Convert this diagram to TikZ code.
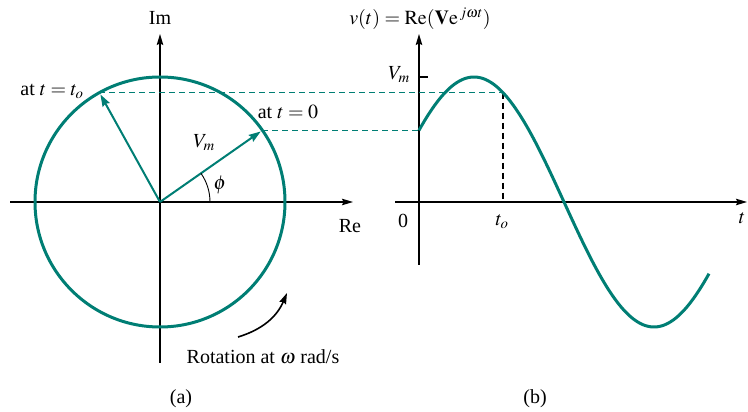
\documentclass[tikz,border=0pt]{standalone}
\usepackage{mathptmx}
\usepackage{fontspec}
\setmainfont{Liberation Serif}
\usetikzlibrary{arrows.meta,calc}
\definecolor{tealc}{RGB}{0,126,116}
\begin{document}
\begin{tikzpicture}[x=1pt,y=1pt,
  font=\fontsize{20}{23}\selectfont,
  lbl/.style={inner sep=0pt},
  axis/.style={black, line width=1.1pt, -{Stealth[length=11pt,width=6.5pt,inset=1.5pt]}},
  plainaxis/.style={black, line width=1.1pt},
  phasor/.style={tealc, line width=2pt, -{Stealth[length=12pt,width=8pt,inset=1.5pt]}},
  guide/.style={tealc, line width=1.1pt, dash pattern=on 6pt off 4pt},
  blackguide/.style={black, line width=1.1pt, dash pattern=on 6pt off 4pt},
  circ/.style={tealc, line width=3pt},
  wave/.style={tealc, line width=3pt},
  rot/.style={black, line width=1.6pt, -{Stealth[length=11pt,width=7pt,inset=1.5pt]}}]
\useasboundingbox (0,0) rectangle (748,412);
% left diagram
\coordinate (O) at (160,210);
\coordinate (LXa) at (10,210);
\coordinate (LXb) at (353,210);
\coordinate (LYa) at (160,49);
\coordinate (LYb) at (160,378);
\draw[axis] (LXa) -- (LXb);
\draw[axis] (LYa) -- (LYb);
\draw[circ] (O) circle[radius=125pt];
\coordinate (P0) at ($(O)+(35:125pt)$);
\coordinate (PT) at ($(O)+(119:125pt)$);
\coordinate (A0) at ($(O)+(35:123pt)$);
\coordinate (AT) at ($(O)+(119:123pt)$);
\draw[phasor] (O) -- (A0);
\draw[phasor] (O) -- (AT);
\draw[black, line width=0.9pt] ($(O)+(50pt,0)$) arc[start angle=0, end angle=35, radius=50pt];
% right diagram
\coordinate (RXa) at (395,210);
\coordinate (RXb) at (747,210);
\coordinate (RYa) at (419,147);
\coordinate (RYb) at (419,378);
\draw[axis] (RXa) -- (RXb);
\draw[axis] (RYa) -- (RYb);
\coordinate (W0) at (419,{210+125*sin(35)});
\coordinate (WT) at (503,{210+125*sin(119)});
\coordinate (T0) at (503,210);
\coordinate (TKa) at (419,335);
\coordinate (TKb) at (428,335);
\draw[plainaxis] (TKa) -- (TKb);
\draw[guide] (PT) -- (WT);
\draw[guide] (P0) -- (W0);
\draw[blackguide] (WT) -- (T0);
\draw[wave] plot[domain=0:290, samples=150, smooth] ({419+\x}, {210+125*sin(\x+35)});
% rotation arrow
\coordinate (Ra) at (238,75);
\coordinate (Rb) at (287,119);
\draw[rot] (Ra) to[bend right=25] (Rb);
% labels
\node[lbl] (im) at (160,394) {Im};
\node[lbl] (re) at (350,186) {Re};
\node[lbl] (ato) at (52,321) {at $t = t_o$};
\node[lbl] (at0) at (288,300) {at $t = 0$};
\node[lbl] (vm) at (204,269) {$V_m$};
\node[lbl] (phi) at (220,227) {$\phi$};
\node[lbl] (rotl) at (263,55) {Rotation at $\omega$ rad/s};
\node[lbl] (la) at (181,13) {(a)};
\node[lbl] (lb) at (535,13) {(b)};
\node[lbl] (vmr) at (399,337) {$V_m$};
\node[lbl] (zero) at (403,191) {0};
\node[lbl] (tol) at (502,190) {$t_o$};
\node[lbl] (tl) at (742,194) {$t$};
\node[lbl] (title) at (420,393) {$v(t) = \mathrm{Re}(\mathbf{V}\mathrm{e}^{\,j\omega t})$};
\end{tikzpicture}
\end{document}
